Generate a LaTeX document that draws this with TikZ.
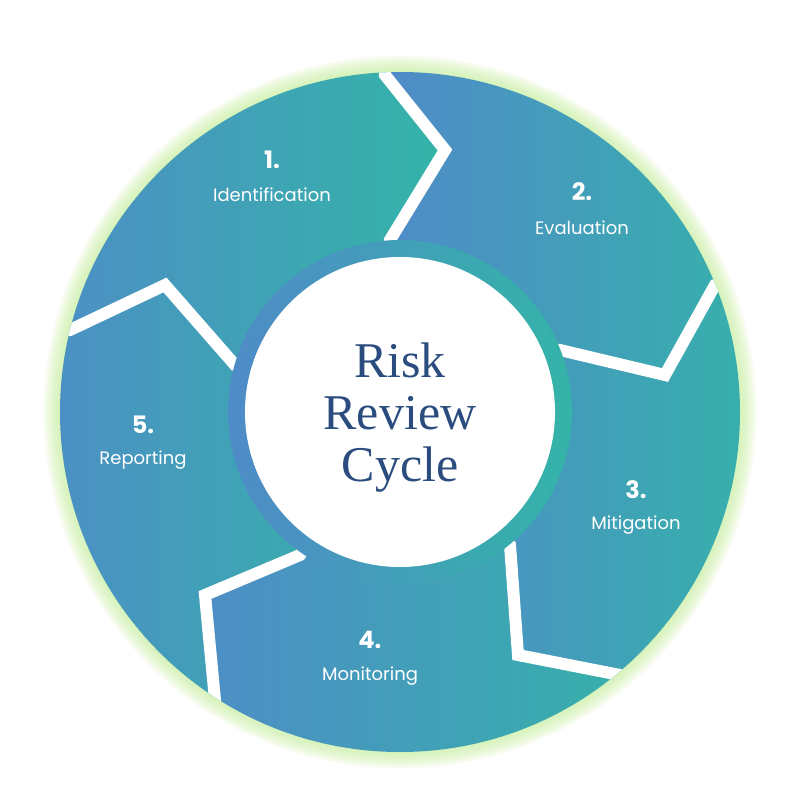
\documentclass[tikz,border=0pt]{standalone}
\usepackage{fontspec}
\setmainfont{Liberation Serif}
\newfontfamily\popp{Poppins}
\definecolor{cblue}{HTML}{4F8BC8}
\definecolor{cteal}{HTML}{34B4A8}
\definecolor{navy}{HTML}{2A4C7E}
\definecolor{glowc}{HTML}{C8F0A0}
\tikzset{
  seg/.style={left color=cblue,right color=cteal},
  sep/.style={white,line width=12pt,line join=miter},
  num/.style={text=white,font=\popp\bfseries\fontsize{24}{28}\selectfont},
  lab/.style={text=white,font=\popp\fontsize{18}{22}\selectfont}
}
\begin{document}
\begin{tikzpicture}[x=1pt,y=-1pt]
\useasboundingbox (0,0) rectangle (800,800);
\fill[white] (0,0) rectangle (800,800);
\foreach \r in {356,353,...,341} {\fill[glowc,opacity=0.18] (400,412) circle (\r);}
\begin{scope}
\clip (400,412) circle (340);
\shade[seg] (400,412)--(235,365)--(165,285)--(70,330)--(10,320)--(10,10)--(383,10)--(385,75)--(445,150)--(390,240)--cycle;
\shade[seg] (400,412)--(390,240)--(445,150)--(385,75)--(383,10)--(790,10)--(790,255)--(715,285)--(665,375)--(560,350)--cycle;
\shade[seg] (400,412)--(560,350)--(665,375)--(715,285)--(790,255)--(790,790)--(680,747)--(620,675)--(518,655)--(510,545)--cycle;
\shade[seg] (400,412)--(510,545)--(518,655)--(620,675)--(680,747)--(680,790)--(170,790)--(170,770)--(215,700)--(205,595)--(300,555)--cycle;
\shade[seg] (400,412)--(300,555)--(205,595)--(215,700)--(170,770)--(10,770)--(10,320)--(70,330)--(165,285)--(235,365)--cycle;
\draw[sep] (400,412)--(390,240)--(445,150)--(385,75)--(383,10);
\draw[sep] (400,412)--(560,350)--(665,375)--(715,285)--(790,255);
\draw[sep] (400,412)--(510,545)--(518,655)--(620,675)--(680,747);
\draw[sep] (400,412)--(300,555)--(205,595)--(215,700)--(170,770);
\draw[sep] (400,412)--(235,365)--(165,285)--(70,330)--(10,320);
\end{scope}
\shade[left color=cblue,right color=cteal] (400,412) circle (172);
\fill[white] (400,412) circle (155);
\node[text=navy,font=\fontsize{50}{52}\selectfont,align=center] (title) at (400,418) {Risk\\Review\\Cycle};
\node[num] (n1) at (272,160) {1.};
\node[lab] (l1) at (272,195) {Identification};
\node[num] (n2) at (582,192) {2.};
\node[lab] (l2) at (582,228) {Evaluation};
\node[num] (n3) at (636,490) {3.};
\node[lab] (l3) at (636,525) {Mitigation};
\node[num] (n4) at (370,640) {4.};
\node[lab] (l4) at (370,676) {Monitoring};
\node[num] (n5) at (143,425) {5.};
\node[lab] (l5) at (143,460) {Reporting};
\end{tikzpicture}
\end{document}
